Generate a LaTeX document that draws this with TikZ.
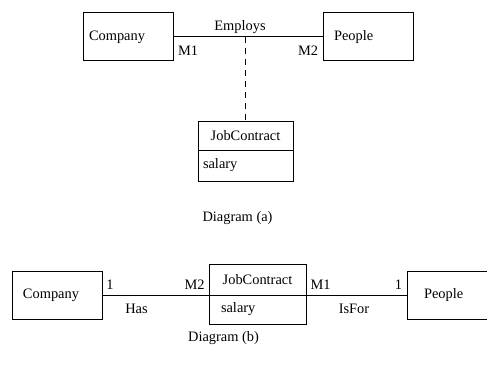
\documentclass[tikz,border=0pt]{standalone}
\usepackage{fontspec}
\setmainfont{Liberation Serif}
\begin{document}
\begin{tikzpicture}[x=1pt,y=-1pt,line width=1pt,
  every node/.style={font=\fontsize{14.4}{17}\selectfont},
  cls/.style={draw,outer sep=0pt,minimum height=48pt,align=left},
  part/.style={draw,outer sep=0pt,minimum width=95pt},
  assocline/.style={dash pattern=on 6pt off 5pt}]
\useasboundingbox (0,0) rectangle (487,369);
\clip (0,0) rectangle (487,369);
% diagram (a)
\node[cls,text width=78pt,inner xsep=6pt] (company) at (128,37) {Company};
\node[cls,text width=68pt,inner xsep=11pt] (people) at (368,37) {People};
\draw (company.east) -- (people.west);
\node (employs) at (240,27) {Employs};
\node (m1) at (188,51) {M1};
\node (m2) at (308,51) {M2};
\node[part,minimum height=29pt] (jc) at (245.5,135.5) {JobContract};
\node[part,minimum height=31pt,anchor=north,text width=85pt,inner xsep=5pt,align=left] (jcattr) at (jc.south) {salary};
\coordinate (assoc) at (245.5,37);
\draw[assocline] (assoc) -- (jc.north);
\node (capa) at (237.5,218) {Diagram (a)};
% diagram (b)
\node[cls,text width=68pt,inner xsep=11pt] (company2) at (57,295) {Company};
\node[part,minimum width=97pt,minimum height=31pt] (jc2) at (257.5,279.5) {JobContract};
\node[part,minimum width=97pt,minimum height=29pt,anchor=north,text width=73pt,inner xsep=12pt,align=left] (jc2attr) at (jc2.south) {salary};
\node[cls,text width=56pt,inner xsep=17pt] (people2) at (452,295) {People};
\draw (company2.east) -- (jc2.south west);
\draw (jc2.south east) -- (people2.west);
\node (one1) at (110,285) {1};
\node (m2b) at (194.5,285) {M2};
\node (has) at (136.5,309) {Has};
\node (m1b) at (320.5,285) {M1};
\node (one2) at (398.5,285) {1};
\node (isfor) at (354,309) {IsFor};
\node (capb) at (223.5,338) {Diagram (b)};
\end{tikzpicture}
\end{document}
